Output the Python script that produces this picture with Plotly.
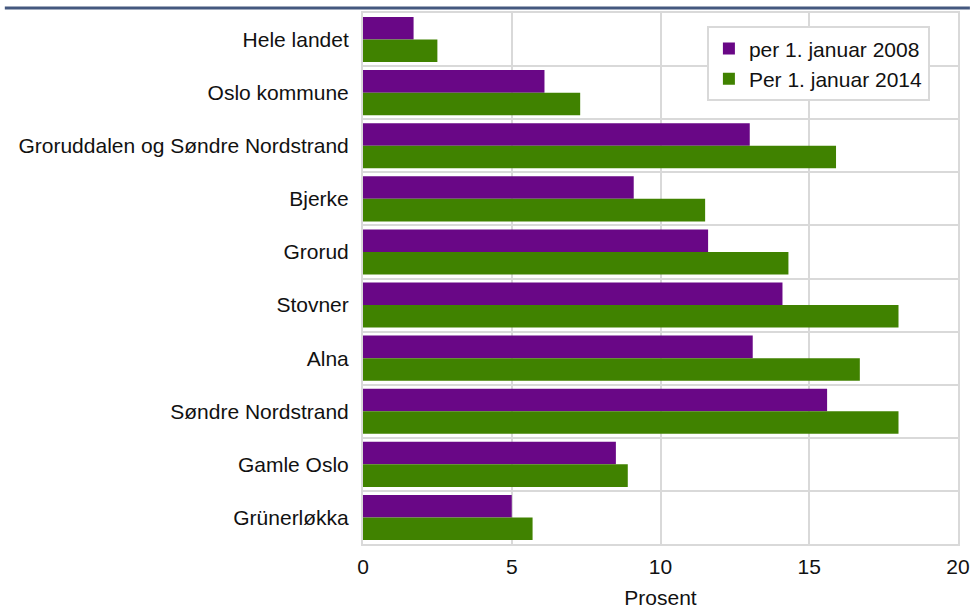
import plotly.graph_objects as go

categories = ["Hele landet", "Oslo kommune", "Groruddalen og Søndre Nordstrand", "Bjerke",
              "Grorud", "Stovner", "Alna", "Søndre Nordstrand", "Gamle Oslo", "Grünerløkka"]
vals_2008 = [1.7, 6.1, 13.0, 9.1, 11.6, 14.1, 13.1, 15.6, 8.5, 5.0]
vals_2014 = [2.5, 7.3, 15.9, 11.5, 14.3, 18.0, 16.7, 18.0, 8.9, 5.7]
series_names = ["per 1. januar 2008", "Per 1. januar 2014"]
x_ticks = [0, 5, 10, 15, 20]

PURPLE = "#690786"
GREEN = "#408200"
GRID = "#d9d9d9"
FONT = "Liberation Sans, Arial, sans-serif"

fig = go.Figure()
fig.add_trace(go.Bar(y=categories, x=vals_2008, orientation="h", name=series_names[0],
                     marker=dict(color=PURPLE, line=dict(width=0))))
fig.add_trace(go.Bar(y=categories, x=vals_2014, orientation="h", name=series_names[1],
                     marker=dict(color=GREEN, line=dict(width=0))))

fig.update_layout(
    width=979, height=609,
    margin=dict(l=363, r=21, t=13, b=65, autoexpand=False),
    paper_bgcolor="white", plot_bgcolor="white",
    font=dict(family=FONT, size=21, color="#111111"),
    barmode="group", bargap=0.15, bargroupgap=0,
    legend=dict(x=0.578, y=0.975, xanchor="left", yanchor="top",
                bgcolor="white", bordercolor=GRID, borderwidth=2,
                font=dict(size=21), traceorder="normal", itemwidth=30),
    shapes=[dict(type="line", xref="paper", yref="paper", x0=-0.602, x1=1.02,
                 y0=1.0094, y1=1.0094, line=dict(color="#44587f", width=3))],
)
fig.update_xaxes(range=[0, 20], tickvals=x_ticks, showgrid=True, gridcolor=GRID, gridwidth=2,
                 showline=True, linecolor=GRID, linewidth=2, mirror=True, zeroline=False,
                 ticks="", ticklabelstandoff=3, automargin=False,
                 title=dict(text="Prosent", standoff=18, font=dict(size=21)))
fig.update_yaxes(type="category", autorange="reversed", tickson="boundaries",
                 showgrid=True, gridcolor=GRID, gridwidth=2,
                 showline=True, linecolor=GRID, linewidth=2, mirror=True,
                 ticks="", ticklabelstandoff=8, automargin=False)

fig.write_html("out.html", config={"displayModeBar": False},
               post_script="document.body.style.margin='0';")
